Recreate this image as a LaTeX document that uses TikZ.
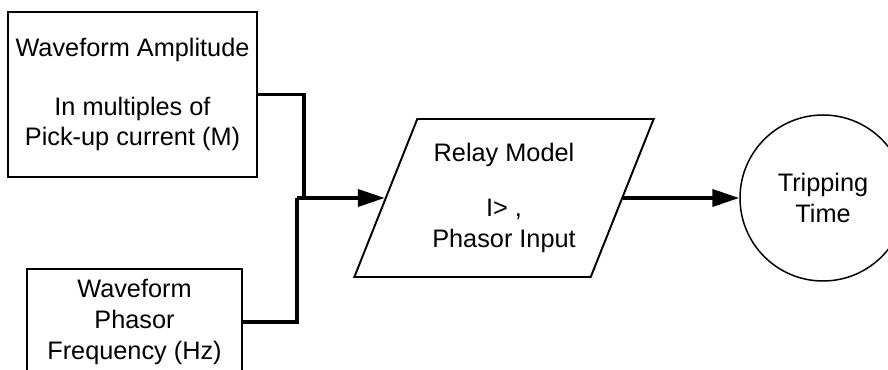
\documentclass[tikz,border=0pt]{standalone}
\usepackage{fontspec}
\setmainfont{Liberation Sans}
\usetikzlibrary{arrows.meta, positioning, shapes.geometric}

\begin{document}
\begin{tikzpicture}[
    inbox/.style={draw, line width=1.1pt, align=center, inner sep=0pt, font=\fontsize{14.4}{17.5}\selectfont},
    relaybox/.style={draw, line width=1.1pt, align=center, trapezium, trapezium left angle=64.6, trapezium right angle=115.4, trapezium stretches=true, minimum width=6cm, minimum height=3.16cm, inner sep=0pt, font=\fontsize{14.4}{17.5}\selectfont},
    outcircle/.style={draw, circle, line width=0.85pt, minimum size=3.32cm, align=center, inner sep=0pt, font=\fontsize{14.4}{17.5}\selectfont},
    wire/.style={line width=2.2pt},
    rel/.style={line width=2.2pt, -{Triangle[length=0.54cm, width=0.34cm]}}
]
\clip (0,0) rectangle (17.76,7.4);
\node[inbox, minimum width=4.98cm, minimum height=3.3cm] (amp) at (2.65,5.51) {Waveform Amplitude\\[16pt]In multiples of\\Pick-up current (M)};
\node[inbox, minimum width=4.3cm, minimum height=2.12cm] (freq) at (2.69,0.96) {Waveform\\Phasor\\Frequency (Hz)};
\node[relaybox] (relay) at (10.08,3.44) {Relay Model\\[14pt]I> ,\\Phasor Input};
\node[outcircle] (trip) at (16.46,3.44) {Tripping\\Time};

\coordinate (j1) at (6.08,3.44);
\coordinate (j2) at (5.94,3.44);

\draw[wire] (amp.east) -| (j1);
\draw[wire] (freq.east) -| (j2);
\draw[rel] (j2) -- (relay.west);
\draw[rel] (relay.east) -- (trip.west);
\end{tikzpicture}
\end{document}
